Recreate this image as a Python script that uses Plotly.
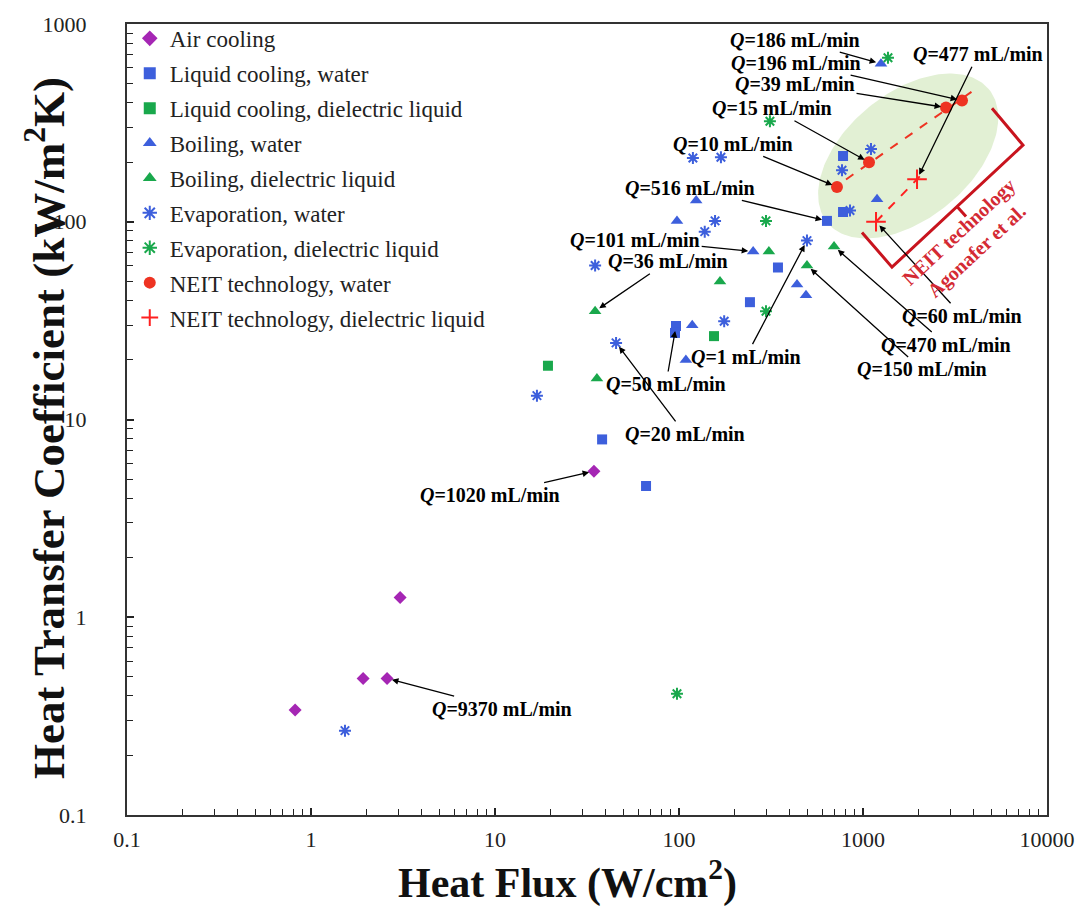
import numpy as np
import plotly.graph_objects as go

# ---------------- data (heat flux W/cm2, HTC kW/m2K) ----------------
air_x = [0.82, 1.92, 2.59, 3.05, 34.5]
air_y = [0.34, 0.49, 0.49, 1.26, 5.48]
lcw_x = [38.2, 66.2, 96.3, 95.1, 243, 345, 637, 779, 779]
lcw_y = [7.93, 4.61, 29.7, 27.4, 39.2, 58.7, 101, 215, 112]
lcd_x = [19.4, 155]
lcd_y = [18.7, 26.4]
bw_x = [1252, 1192, 124, 97.5, 253, 438, 490, 118, 109]
bw_y = [630, 130, 128, 101, 70.7, 48.2, 42.5, 30.0, 20.0]
bd_x = [35.0, 35.8, 167, 308, 496, 696]
bd_y = [35.3, 16.1, 49.9, 70.7, 60.1, 74.9]
ew_x = [1.53, 16.9, 45.5, 35.0, 119, 169, 138, 157, 176, 496, 769, 1105, 850]
ew_y = [0.267, 13.2, 24.4, 60.1, 210, 212, 89.1, 101, 31.4, 80.3, 182, 233, 114]
ed_x = [1367, 312, 297, 297, 97.5]
ed_y = [675, 322, 101, 35.3, 0.41]
nw_x = [722, 1078, 2826, 3452]
nw_y = [150, 200, 378, 410]
nd_x = [1177, 1966]
nd_y = [100, 164]

x_ticks = [0.1, 1, 10, 100, 1000, 10000]
y_ticks = [0.1, 1, 10, 100, 1000]

FONT = "Liberation Serif"
BLUE = "#3d5fdc"
GREEN = "#19a84c"
PURPLE = "#a526b4"
RED = "#ee3322"
RED2 = "#ff2020"
DARKRED = "#c8141e"

fig = go.Figure()

# ---- green highlight ellipse (log space), drawn behind markers ----
cx, cy = np.log10(1760), np.log10(215)
a_px, b_px, phi = 105, 63, np.deg2rad(40)
px_dec_x, px_dec_y = 184.0, 199.0
t = np.linspace(0, 2 * np.pi, 200)
u, v = a_px * np.cos(t), b_px * np.sin(t)
dx = u * np.cos(phi) - v * np.sin(phi)
dy = u * np.sin(phi) + v * np.cos(phi)
fig.add_trace(go.Scatter(x=10 ** (cx + dx / px_dec_x), y=10 ** (cy + dy / px_dec_y),
                         mode="lines", fill="toself", fillcolor="#e2f0d4",
                         line=dict(width=0, color="#e2f0d4"), showlegend=False,
                         hoverinfo="skip"))


# ---- dashed trend lines for NEIT data ----
def trend(xs, ys, x_end_factor):
    lx, ly = np.log10(xs), np.log10(ys)
    k, b = np.polyfit(lx, ly, 1)
    xe = np.array([min(xs) * 1.12, max(xs) * x_end_factor])
    return xe, 10 ** (k * np.log10(xe) + b)


lx1, ly1 = trend(nw_x, nw_y, 1.15)
fig.add_trace(go.Scatter(x=lx1, y=ly1, mode="lines",
                         line=dict(color=RED, width=2, dash="dash"),
                         showlegend=False, hoverinfo="skip"))
lx2, ly2 = trend(nd_x, nd_y, 1.05)
lx2[0] = min(nd_x)
ly2[0] = nd_y[0]
fig.add_trace(go.Scatter(x=lx2, y=ly2, mode="lines",
                         line=dict(color=RED2, width=2, dash="dash"),
                         showlegend=False, hoverinfo="skip"))

series = [
    ("Air cooling", air_x, air_y, dict(symbol="diamond", size=10, color=PURPLE)),
    ("Liquid cooling, water", lcw_x, lcw_y, dict(symbol="square", size=10, color=BLUE)),
    ("Liquid cooling, dielectric liquid", lcd_x, lcd_y, dict(symbol="square", size=10, color=GREEN)),
    ("Boiling, water", bw_x, bw_y, dict(symbol="triangle-up", size=11, color=BLUE)),
    ("Boiling, dielectric liquid", bd_x, bd_y, dict(symbol="triangle-up", size=11, color=GREEN)),
    ("Evaporation, water", ew_x, ew_y, dict(symbol="asterisk-open", size=10, color=BLUE,
                                             line=dict(color=BLUE, width=2))),
    ("Evaporation, dielectric liquid", ed_x, ed_y, dict(symbol="asterisk-open", size=10, color=GREEN,
                                                         line=dict(color=GREEN, width=2))),
    ("NEIT technology, water", nw_x, nw_y, dict(symbol="circle", size=12, color=RED)),
    ("NEIT technology, dielectric liquid", nd_x, nd_y, dict(symbol="cross-thin-open", size=14, color=RED2,
                                                             line=dict(color=RED2, width=2))),
]
for i, (name, xs, ys, mk) in enumerate(series):
    fig.add_trace(go.Scatter(x=xs, y=ys, mode="markers", name=name, marker=mk,
                             legendgroup=f"g{i}"))

# ---- flow-rate annotations: (x, y, label, ax, ay) ----
notes = [
    (bw_x[0], bw_y[0], "186", -86, -24),
    (nw_x[3], nw_y[3], "196", -166, -38),
    (nw_x[2], nw_y[2], "39", -151, -24),
    (nd_x[1], nd_y[1], "477", 61, -125),
    (nw_x[1], nw_y[1], "15", -97, -54),
    (nw_x[0], nw_y[0], "10", -104, -43),
    (lcw_x[6], lcw_y[6], "516", -137, -33),
    (bw_x[4], bw_y[4], "101", -118, -12),
    (bd_x[0], bd_y[0], "36", 73, -50),
    (ew_x[9], ew_y[9], "1", -61, 116),
    (lcw_x[2], lcw_y[2], "50", -10, 58),
    (ew_x[2], ew_y[2], "20", 69, 91),
    (air_x[4], air_y[4], "1020", -104, 24),
    (air_x[2], air_y[2], "9370", 115, 30),
    (bd_x[5], bd_y[5], "470", 112, 98),
    (bd_x[4], bd_y[4], "150", 115, 104),
    (nd_x[0], nd_y[0], "60", 86, 94),
]
for x, y, q, ax, ay in notes:
    fig.add_annotation(x=np.log10(x), y=np.log10(y), xref="x", yref="y",
                       text=f"<b><i>Q</i>={q} mL/min</b>", showarrow=True,
                       ax=ax, ay=ay, arrowhead=2, arrowsize=1, arrowwidth=1.3,
                       arrowcolor="black", standoff=5,
                       font=dict(family=FONT, size=20, color="black"))


# ---- red bracket (paper coordinates) ----
def P(px, py):
    return (px - 127) / 920.0, (815 - py) / 797.0


br = [P(992, 103), P(1023, 140), P(892, 263), P(862, 228)]
path = "M " + " L ".join(f"{x:.4f},{y:.4f}" for x, y in br)
fig.add_shape(type="path", path=path, xref="paper", yref="paper",
              line=dict(color=DARKRED, width=3))
s0, s1 = P(957, 202), P(966, 212)
fig.add_shape(type="line", x0=s0[0], y0=s0[1], x1=s1[0], y1=s1[1], xref="paper", yref="paper",
              line=dict(color=DARKRED, width=3))
tc = P(968, 237)
fig.add_annotation(x=tc[0], y=tc[1], xref="paper", yref="paper", showarrow=False,
                   xanchor="center", yanchor="middle",
                   text="<b>NEIT technology<br>Agonafer et al.</b>", textangle=-43,
                   font=dict(family=FONT, size=20, color="#d42a34"))

# ---- axis titles ----
xt = P(567, 880)
fig.add_annotation(x=xt[0], y=xt[1], xref="paper", yref="paper", showarrow=False,
                   xanchor="center", yanchor="middle",
                   text="<b>Heat Flux (W/cm<sup>2</sup>)</b>",
                   font=dict(family=FONT, size=42, color="#111111"))
yt = P(46, 425)
fig.add_annotation(x=yt[0], y=yt[1], xref="paper", yref="paper", showarrow=False,
                   xanchor="center", yanchor="middle", textangle=-90,
                   text="<b>Heat Transfer Coefficient (kW/m<sup>2</sup>K)</b>",
                   font=dict(family=FONT, size=45, color="#111111"))

axis_common = dict(type="log", showgrid=False, zeroline=False, showline=True,
                   linecolor="#333333", linewidth=2, mirror=True,
                   ticks="inside", ticklen=7, tickwidth=1.5, tickcolor="#222222",
                   tickfont=dict(family=FONT, size=22, color="#222222"),
                   minor=dict(ticks="inside", ticklen=6, tickwidth=1.3, tickcolor="#222222",
                              dtick="D1", showgrid=False))

fig.update_layout(
    width=1091, height=909,
    margin=dict(l=127, r=44, t=18, b=94),
    paper_bgcolor="white", plot_bgcolor="white",
    font=dict(family=FONT),
    xaxis=dict(axis_common, range=[-1, 4], tickmode="array", tickvals=x_ticks,
               ticktext=[str(v) for v in x_ticks], ticklabelstandoff=4),
    yaxis=dict(axis_common, range=[-1, 3], tickmode="array", tickvals=y_ticks,
               ticktext=[str(v) for v in y_ticks], ticklabelstandoff=34),
    legend=dict(x=0.003, y=1.009, xanchor="left", yanchor="top",
                bgcolor="rgba(0,0,0,0)", borderwidth=0,
                font=dict(family=FONT, size=23, color="#222222"),
                tracegroupgap=2, itemsizing="constant"),
    showlegend=True,
)

fig.write_html("out.html")
